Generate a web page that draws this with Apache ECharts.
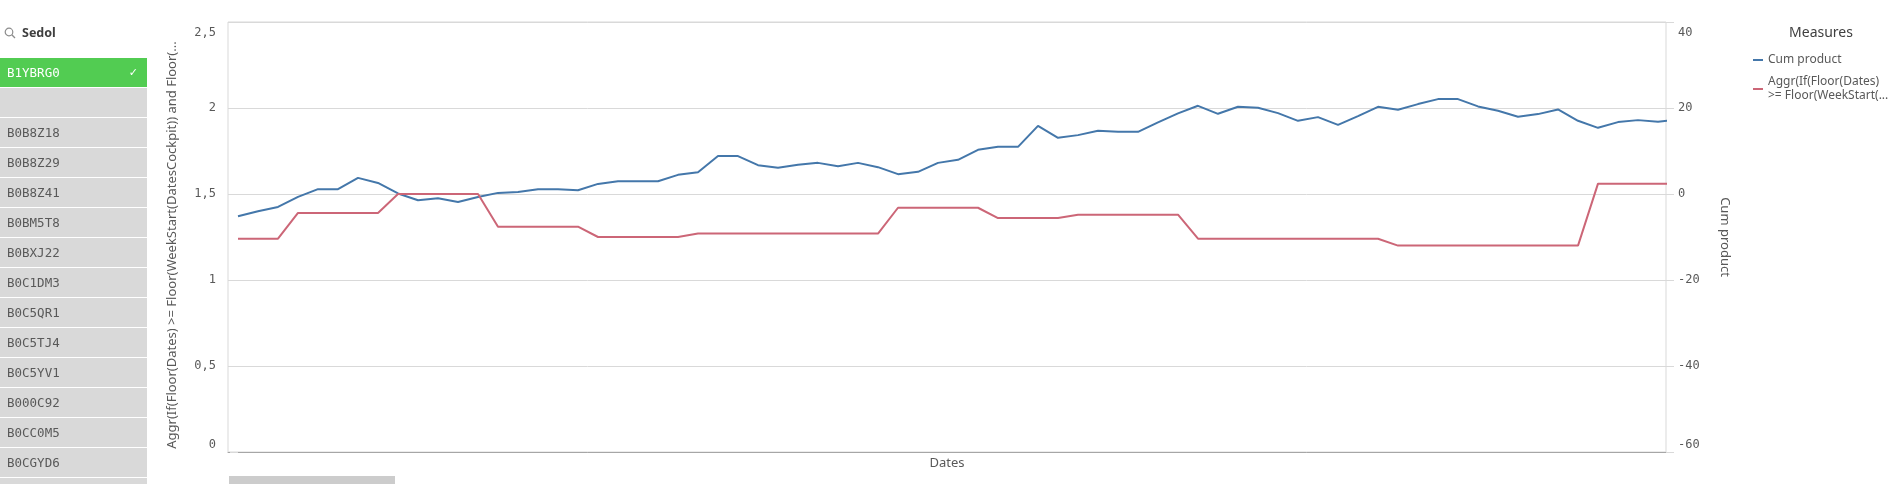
<!DOCTYPE html>
<html><head><meta charset="utf-8">
<script src="https://cdn.jsdelivr.net/npm/echarts@6/dist/echarts.min.js"></script>
<style>
html,body{margin:0;padding:0;background:#fff;width:1898px;height:484px;overflow:hidden;}
#chart{position:absolute;left:0;top:0;width:1898px;height:484px;}
#list{position:absolute;left:0;top:0;width:147px;height:484px;overflow:hidden;font-family:'DejaVu Sans Mono',monospace;font-size:12.5px;z-index:2;}
#hdr{position:absolute;left:4px;top:24px;height:18px;line-height:18px;font-family:'Noto Sans',sans-serif;font-weight:bold;font-size:12.5px;color:#404040;}
#hdr svg{position:absolute;left:0;top:3px;}
#hdr span{position:absolute;left:18px;top:0;}
.row{position:absolute;left:0;width:147px;height:29px;background:#d9d9d9;color:#595959;line-height:29px;padding-left:7px;box-sizing:border-box;}
.sel{background:#52cc52;color:#fff;}
.chk{position:absolute;right:9px;top:0;font-family:'DejaVu Sans',sans-serif;font-size:11px;}
</style></head>
<body>
<div id="chart"></div>
<div id="list">
  <div id="hdr"><svg width="12" height="12" viewBox="0 0 12 12"><circle cx="5" cy="5" r="3.8" fill="none" stroke="#8c8c8c" stroke-width="1.2"/><line x1="7.8" y1="7.8" x2="11" y2="11" stroke="#8c8c8c" stroke-width="1.3"/></svg><span>Sedol</span></div>
</div>
<script>
// ---- data ----
const sedolItems = ['B1YBRG0', '', 'B0B8Z18', 'B0B8Z29', 'B0B8Z41', 'B0BM5T8', 'B0BXJ22', 'B0C1DM3', 'B0C5QR1', 'B0C5TJ4', 'B0C5YV1', 'B000C92', 'B0CC0M5', 'B0CGYD6', ''];
const selectedItem = 'B1YBRG0';

const cumProduct = [-5.17, -4.0, -3.0, -0.68, 1.12, 1.12, 3.75, 2.58, 0.12, -1.44,
  -0.98, -1.84, -0.68, 0.26, 0.49, 1.12, 1.12, 0.88, 2.35, 2.98,
  2.98, 2.98, 4.45, 5.08, 8.82, 8.82, 6.71, 6.08, 6.78, 7.24,
  6.47, 7.24, 6.24, 4.61, 5.15, 7.24, 7.94, 10.27, 10.97, 10.97,
  15.85, 13.06, 13.69, 14.69, 14.46, 14.46, 16.65, 18.74, 20.51, 18.65,
  20.28, 20.05, 18.81, 17.02, 17.88, 16.09, 18.11, 20.28, 19.58, 20.91,
  22.07, 22.07, 20.37, 19.35, 17.95, 18.58, 19.67, 17.02, 15.39, 16.72,
  17.18, 16.79, 17.37];

const aggrValues = [1.24, 1.24, 1.24, 1.39, 1.39, 1.39, 1.39, 1.39, 1.50, 1.50,
  1.50, 1.50, 1.50, 1.31, 1.31, 1.31, 1.31, 1.31, 1.25, 1.25,
  1.25, 1.25, 1.25, 1.27, 1.27, 1.27, 1.27, 1.27, 1.27, 1.27,
  1.27, 1.27, 1.27, 1.42, 1.42, 1.42, 1.42, 1.42, 1.36, 1.36,
  1.36, 1.36, 1.38, 1.38, 1.38, 1.38, 1.38, 1.38, 1.24, 1.24,
  1.24, 1.24, 1.24, 1.24, 1.24, 1.24, 1.24, 1.24, 1.20, 1.20,
  1.20, 1.20, 1.20, 1.20, 1.20, 1.20, 1.20, 1.20, 1.56, 1.56,
  1.56, 1.56, 1.56];

const leftTicks = {min: 0, max: 2.5, interval: 0.5};
const rightTicks = {min: -60, max: 40, interval: 20};

const cumName = 'Cum product';
const aggrName = 'Aggr(If(Floor(Dates) >= Floor(WeekStart(DatesCockpit)) and Floor(...';
const aggrLegend = 'Aggr(If(Floor(Dates)\n>= Floor(WeekStart(...';
const leftAxisTitle = 'Aggr(If(Floor(Dates) >= Floor(WeekStart(DatesCockpit)) and Floor(...';
const rightAxisTitle = 'Cum product';
const xAxisTitle = 'Dates';
const legendTitle = 'Measures';

// ---- listbox ----
const list = document.getElementById('list');
sedolItems.forEach((s, k) => {
  const d = document.createElement('div');
  d.className = 'row' + (s === selectedItem ? ' sel' : '');
  d.style.top = (58 + 30 * k) + 'px';
  d.textContent = s;
  if (s === selectedItem) {
    const c = document.createElement('span');
    c.className = 'chk'; c.textContent = '\u2713';
    d.appendChild(c);
  }
  list.appendChild(d);
});

// ---- chart ----
const fmt = v => String(v).replace('.', ',');
const mono = 'DejaVu Sans Mono';
const sans = 'Noto Sans';
const labelRich = {
  top: {padding: [22, 0, 0, 0], fontFamily: mono, fontSize: 12, color: '#595959'},
  bot: {padding: [0, 0, 15, 0], fontFamily: mono, fontSize: 12, color: '#595959'}
};
function makeFmt(lo, hi) {
  return v => {
    const s = fmt(v);
    if (v === hi) return '{top|' + s + '}';
    if (v === lo) return '{bot|' + s + '}';
    return s;
  };
}
const chart = echarts.init(document.getElementById('chart'), null, {renderer: 'canvas'});
chart.setOption({
  animation: false,
  title: {text: legendTitle, left: 1816, top: 21, textAlign: 'center',
    textStyle: {fontSize: 14, fontWeight: 'normal', color: '#404040', fontFamily: sans}},
  legend: {
    orient: 'vertical', left: 1748, top: 48, itemGap: 8, itemWidth: 10, itemHeight: 2,
    icon: 'rect', itemTextGap: 7,
    data: [cumName, aggrName],
    formatter: n => n === aggrName ? aggrLegend : n,
    textStyle: {color: '#595959', fontSize: 12, lineHeight: 14, fontFamily: sans}
  },
  grid: {left: 228, right: 232, top: 22, bottom: 32, show: true, borderColor: '#d9d9d9', borderWidth: 1},
  xAxis: {
    type: 'value', min: -0.5, max: 71.4,
    axisLabel: {show: false}, axisTick: {show: false}, splitLine: {show: false},
    axisLine: {lineStyle: {color: '#a6a6a6', width: 1}},
    name: xAxisTitle, nameLocation: 'middle', nameGap: 5,
    nameTextStyle: {color: '#595959', fontSize: 13, fontFamily: sans, verticalAlign: 'top'}
  },
  yAxis: [{
    type: 'value', position: 'left', min: leftTicks.min, max: leftTicks.max, interval: leftTicks.interval,
    axisLine: {show: false},
    axisTick: {show: true, length: 8, lineStyle: {color: '#d9d9d9'}},
    splitLine: {lineStyle: {color: '#d9d9d9'}},
    axisLabel: {margin: 12, fontFamily: mono, fontSize: 12, color: '#595959',
      formatter: makeFmt(leftTicks.min, leftTicks.max), rich: labelRich},
    name: leftAxisTitle, nameLocation: 'middle', nameGap: 49, nameRotate: 90,
    nameTextStyle: {color: '#595959', fontSize: 13, fontFamily: sans, padding: [0, 16, 0, 0]}
  }, {
    type: 'value', position: 'right', min: rightTicks.min, max: rightTicks.max, interval: rightTicks.interval,
    axisLine: {show: false},
    axisTick: {show: true, length: 8, lineStyle: {color: '#d9d9d9'}},
    splitLine: {show: false},
    axisLabel: {margin: 12, fontFamily: mono, fontSize: 12, color: '#595959',
      formatter: makeFmt(rightTicks.min, rightTicks.max), rich: labelRich},
    name: rightAxisTitle, nameLocation: 'middle', nameGap: 52, nameRotate: -90,
    nameTextStyle: {color: '#595959', fontSize: 13, fontFamily: sans}
  }],
  graphic: [{type: 'rect', left: 229, top: 476, shape: {width: 166, height: 8}, style: {fill: '#cccccc'}, silent: true}],
  series: [{
    name: cumName, type: 'line', yAxisIndex: 1, symbol: 'none', clip: true,
    data: cumProduct.map((v, i) => [i, v]),
    lineStyle: {color: '#4477aa', width: 2}, itemStyle: {color: '#4477aa'}
  }, {
    name: aggrName, type: 'line', yAxisIndex: 0, symbol: 'none', clip: true,
    data: aggrValues.map((v, i) => [i, v]),
    lineStyle: {color: '#cc6677', width: 2}, itemStyle: {color: '#cc6677'}
  }]
});
</script>
</body></html>
